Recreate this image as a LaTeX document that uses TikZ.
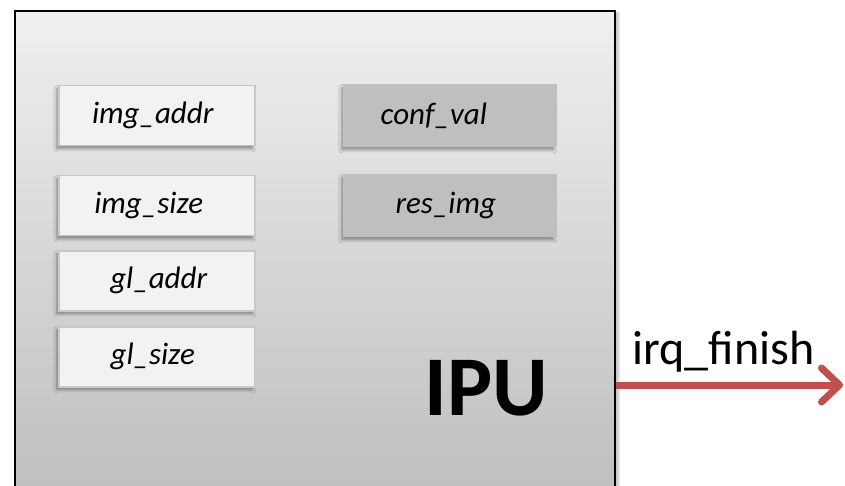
\documentclass[tikz,border=0pt]{standalone}
\usepackage{fontspec}
\setmainfont{Carlito}
\usetikzlibrary{arrows.meta,shadows.blur}
\definecolor{regfill}{HTML}{F2F2F2}
\definecolor{regline}{HTML}{C8C8C8}
\definecolor{outfill}{HTML}{BFBFBF}
\definecolor{irqred}{HTML}{C0504D}
\tikzset{
  regbox/.style={draw=regline, line width=1.5pt, fill=regfill,
    minimum width=196pt, minimum height=60pt, inner sep=0pt, anchor=north west,
    font=\fontsize{31}{35}\selectfont\itshape,
    blur shadow={shadow xshift=-2pt, shadow yshift=-3pt, shadow blur steps=8, shadow blur radius=3pt, shadow opacity=40}},
  outbox/.style={regbox, draw=outfill, fill=outfill, minimum width=212pt, minimum height=62pt},
  irqarrow/.style={draw=irqred, line width=7pt,
    -{Straight Barb[length=18pt, width=34pt, round]}}
}
\begin{document}
\begin{tikzpicture}[x=1pt, y=-1pt]
  \useasboundingbox (0,0) rectangle (845,486);
  \begin{scope}
    \clip (0,0) rectangle (845,486);
    % IPU block with vertical gradient
    \node[draw=black, line width=2pt, top color=black!6, bottom color=black!26,
      minimum width=600pt, minimum height=500pt, inner sep=0pt, anchor=north west,
      blur shadow={shadow xshift=3pt, shadow yshift=-2pt, shadow blur steps=8, shadow blur radius=3pt, shadow opacity=30}]
      (ipu) at (14,10) {};
    % input registers
    \node[regbox] (imgaddr) at (58,85)  {img\_addr\hspace*{8pt}};
    \node[regbox] (imgsize) at (58,175) {img\_size\hspace*{16pt}};
    \node[regbox] (gladdr)  at (58,250) {\hspace*{4pt}gl\_addr};
    \node[regbox] (glsize)  at (58,326) {gl\_size\hspace*{8pt}};
    % output registers
    \node[outbox] (confval) at (343,84)  {conf\_val\hspace*{32pt}};
    \node[outbox] (resimg)  at (343,174) {res\_img\hspace*{8pt}};
    % block title
    \node[font=\fontsize{85}{90}\selectfont\bfseries, inner sep=0pt] (ipulabel) at (486,388) {IPU};
  \end{scope}
  % interrupt output
  \coordinate (irqend) at (843,385);
  \draw[irqarrow] (ipu.east |- irqend) -- node[above=6pt, font=\fontsize{48}{52}\selectfont, text=black, xshift=-6pt] (irqlabel) {irq\_finish} (irqend);
\end{tikzpicture}
\end{document}
